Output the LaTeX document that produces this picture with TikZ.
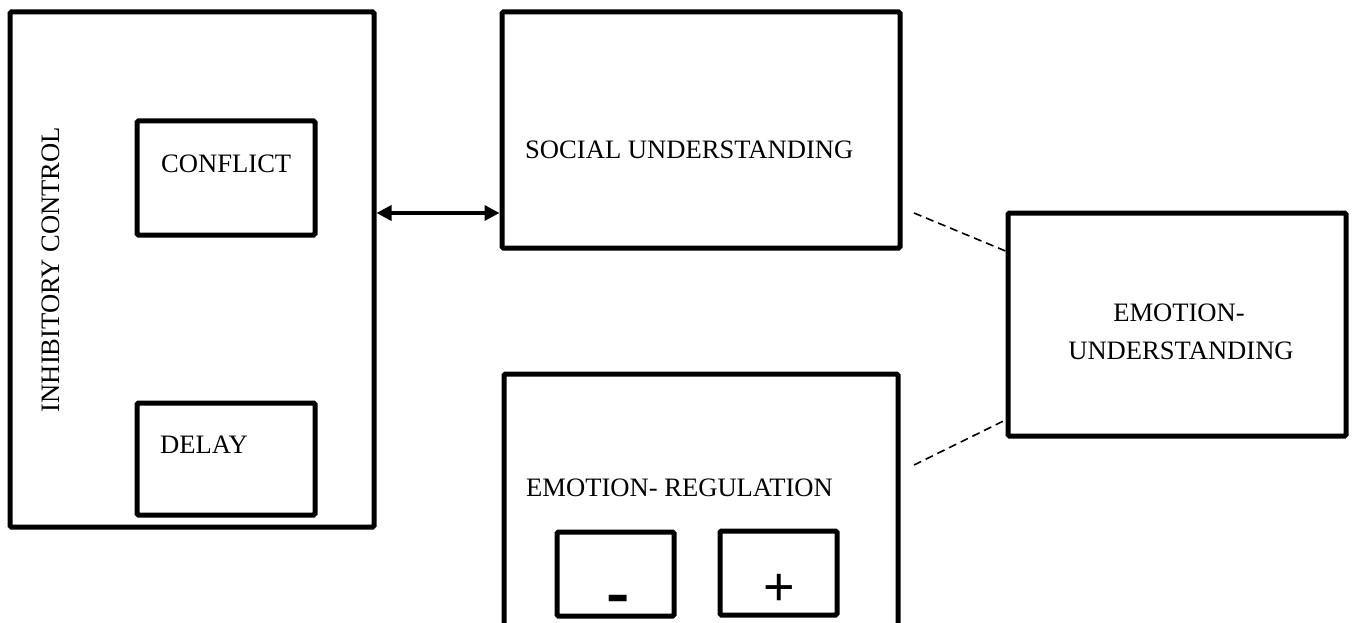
\documentclass[tikz,border=0pt]{standalone}
\usepackage{fontspec}
\setmainfont{Liberation Serif}
\newfontfamily\signfont{Liberation Sans}
\usetikzlibrary{arrows.meta}
\tikzset{
  box/.style={draw, line width=5pt, rounded corners=1.5pt, inner sep=0pt, fill=none},
  lbl/.style={inner sep=0pt, font=\fontsize{26.6}{30}\selectfont},
  arr/.style={line width=3.5pt, {Triangle[length=15pt,width=15pt]}-{Triangle[length=15pt,width=15pt]}},
  dsh/.style={line width=1.6pt, dash pattern=on 8pt off 5pt},
  sign/.style={inner sep=0pt, anchor=base, text depth=0pt},
}
\begin{document}
\begin{tikzpicture}[x=1pt,y=-1pt]
\useasboundingbox (0,0) rectangle (1354,623);
\clip (0,0) rectangle (1354,623);
% boxes
\node[box, minimum width=364pt, minimum height=515pt] (ic) at (192,269.5) {};
\node[box, minimum width=178pt, minimum height=114pt] (conf) at (226,178) {};
\node[box, minimum width=178pt, minimum height=112pt] (del) at (226,459) {};
\node[box, minimum width=398pt, minimum height=236pt] (su) at (701,130) {};
\node[box, minimum width=394pt, minimum height=326pt] (er) at (701,537) {};
\node[box, minimum width=117pt, minimum height=84pt] (neg) at (615.5,574) {};
\node[box, minimum width=117pt, minimum height=84pt] (pos) at (778.5,573) {};
\node[box, minimum width=338pt, minimum height=223pt] (eu) at (1177,324.5) {};
% texts
\node[lbl, rotate=90, anchor=base] (ict) at (59,269.5) {INHIBITORY CONTROL};
\node[lbl, anchor=base west] (conft) at (161,172) {CONFLICT};
\node[lbl, anchor=base west] (delt) at (160,453) {DELAY};
\node[lbl, anchor=base west] (sut) at (525,158) {SOCIAL UNDERSTANDING};
\node[lbl, anchor=base west] (ert) at (526,496) {EMOTION- REGULATION};
\node[lbl, anchor=base] (eut1) at (1179,321) {EMOTION-};
\node[lbl, anchor=base] (eut2) at (1181,359) {UNDERSTANDING};
\node[sign, font=\signfont\bfseries\fontsize{54}{60}\selectfont] (negt) at (618,612) {\scalebox{1.3}[1]{-}};
\node[sign, font=\signfont\fontsize{54}{60}\selectfont] (post) at (779,605) {+};
% connectors
\draw[arr] (ic.east |- 0,213) -- (su.west |- 0,213);
\coordinate (d1) at (914,213);
\coordinate (d2) at (914,465);
\draw[dsh] (d1) -- (eu.west |- 0,251);
\draw[dsh] (d2) -- (eu.west |- 0,420);
\end{tikzpicture}
\end{document}
